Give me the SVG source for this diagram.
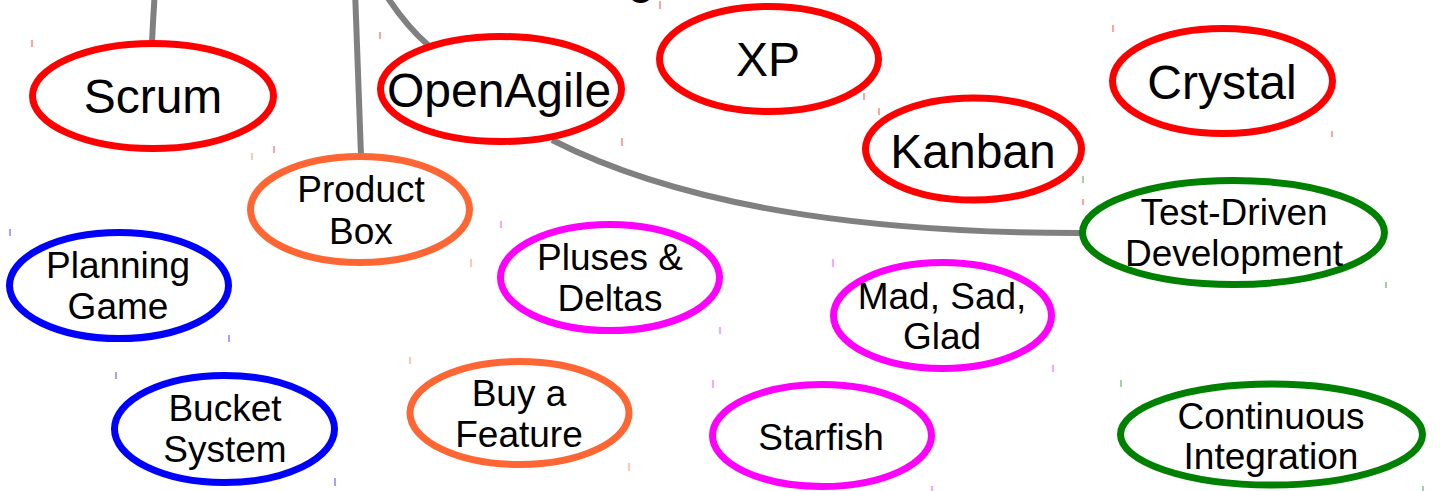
<svg xmlns="http://www.w3.org/2000/svg" width="1442" height="491" viewBox="0 0 1442 491">
<style>
  text { font-family: "Liberation Sans", Arial, sans-serif; fill: #000; text-anchor: middle; }
  .big { font-size: 48px; }
  .sm { font-size: 37px; }
  ellipse { fill: #fff; stroke-width: 7; }
  .red { stroke: #ff0000; }
  .org { stroke: #ff6633; }
  .blu { stroke: #0000ff; }
  .mag { stroke: #ff00ff; }
  .grn { stroke: #008000; }
  .conn path { fill: none; stroke: #808080; stroke-width: 6; }
  .tick { stroke-width: 1.2; opacity: 0.6; }
</style>
<rect width="1442" height="491" fill="#fff"/>
<text class="big" x="641" y="-7">g</text>
<g class="conn" id="connectors">
  <path d="M155,-10 Q153,20 152,43"/>
  <path d="M355,-10 Q358,80 361,156"/>
  <path d="M384,-8 Q405,25 428,45"/>
  <path d="M552,140 C700,215 900,233 1080,233"/>
</g>
<g id="scrum">
  <ellipse class="red" cx="153" cy="96" rx="120.5" ry="52.5"/>
  <text class="big" x="153" y="113">Scrum</text>
  <line class="tick red" x1="32" y1="40" x2="32" y2="47"/><line class="tick red" x1="274" y1="146" x2="274" y2="153"/>
</g>
<g id="openagile">
  <ellipse class="red" cx="501" cy="89" rx="120.5" ry="52.5"/>
  <text class="big" x="499" y="107">OpenAgile</text>
  <line class="tick red" x1="380" y1="32" x2="380" y2="39"/><line class="tick red" x1="622" y1="138" x2="622" y2="146"/>
</g>
<g id="xp">
  <ellipse class="red" cx="769" cy="59" rx="109.5" ry="52.5"/>
  <text class="big" x="768" y="76">XP</text>
  <line class="tick red" x1="660" y1="1" x2="660" y2="9"/><line class="tick red" x1="864" y1="93" x2="864" y2="100"/>
</g>
<g id="kanban">
  <ellipse class="red" cx="973.5" cy="149" rx="108" ry="51"/>
  <text class="big" x="973" y="168">Kanban</text>
  <line class="tick red" x1="879" y1="108" x2="879" y2="115"/><line class="tick red" x1="1083" y1="199" x2="1083" y2="205"/>
</g>
<g id="crystal">
  <ellipse class="red" cx="1222.5" cy="81" rx="110" ry="52.5"/>
  <text class="big" x="1222" y="99">Crystal</text>
  <line class="tick red" x1="1113" y1="25" x2="1113" y2="32"/><line class="tick red" x1="1332" y1="131" x2="1332" y2="137"/>
</g>
<g id="productbox">
  <ellipse class="org" cx="360" cy="209.5" rx="109.5" ry="53"/>
  <text class="sm" x="361" y="202">Product</text>
  <text class="sm" x="361" y="244">Box</text>
  <line class="tick org" x1="252" y1="153" x2="252" y2="160"/><line class="tick org" x1="471" y1="259" x2="471" y2="267"/>
</g>
<g id="planninggame">
  <ellipse class="blu" cx="119" cy="285.5" rx="109.5" ry="53"/>
  <text class="sm" x="118" y="278">Planning</text>
  <text class="sm" x="118" y="319">Game</text>
  <line class="tick blu" x1="10" y1="229" x2="10" y2="236"/><line class="tick blu" x1="229" y1="335" x2="229" y2="342"/>
</g>
<g id="pluses">
  <ellipse class="mag" cx="610" cy="277.5" rx="109.5" ry="53"/>
  <text class="sm" x="610" y="270">Pluses &amp;</text>
  <text class="sm" x="610" y="311">Deltas</text>
  <line class="tick mag" x1="501" y1="221" x2="501" y2="228"/><line class="tick mag" x1="720" y1="327" x2="720" y2="334"/>
</g>
<g id="madsadglad">
  <ellipse class="mag" cx="942.5" cy="315.5" rx="109" ry="53"/>
  <text class="sm" x="942" y="309">Mad, Sad,</text>
  <text class="sm" x="942" y="349">Glad</text>
  <line class="tick mag" x1="833" y1="259" x2="833" y2="267"/><line class="tick mag" x1="1053" y1="365" x2="1053" y2="372"/>
</g>
<g id="tdd">
  <ellipse class="grn" cx="1233.5" cy="232.5" rx="151" ry="52"/>
  <text class="sm" x="1234" y="225">Test-Driven</text>
  <text class="sm" x="1234" y="266">Development</text>
  <line class="tick grn" x1="1083" y1="176" x2="1083" y2="183"/><line class="tick grn" x1="1386" y1="282" x2="1386" y2="288"/>
</g>
<g id="bucket">
  <ellipse class="blu" cx="224.5" cy="429" rx="110" ry="53.5"/>
  <text class="sm" x="225" y="421">Bucket</text>
  <text class="sm" x="225" y="462">System</text>
  <line class="tick blu" x1="116" y1="372" x2="116" y2="379"/><line class="tick blu" x1="335" y1="478" x2="335" y2="486"/>
</g>
<g id="buyafeature">
  <ellipse class="org" cx="519.5" cy="413" rx="109.5" ry="51.5"/>
  <text class="sm" x="519" y="406">Buy a</text>
  <text class="sm" x="519" y="447">Feature</text>
  <line class="tick org" x1="410" y1="357" x2="410" y2="364"/><line class="tick org" x1="629" y1="463" x2="629" y2="471"/>
</g>
<g id="starfish">
  <ellipse class="mag" cx="822" cy="435.5" rx="109.5" ry="51"/>
  <text class="sm" x="821" y="450">Starfish</text>
  <line class="tick mag" x1="713" y1="380" x2="713" y2="388"/><line class="tick mag" x1="932" y1="486" x2="932" y2="491"/>
</g>
<g id="ci">
  <ellipse class="grn" cx="1271.5" cy="434.5" rx="151" ry="50.5"/>
  <text class="sm" x="1271" y="429">Continuous</text>
  <text class="sm" x="1271" y="469">Integration</text>
  <line class="tick grn" x1="1121" y1="380" x2="1121" y2="387"/><line class="tick grn" x1="1423" y1="486" x2="1423" y2="491"/>
</g>
</svg>
